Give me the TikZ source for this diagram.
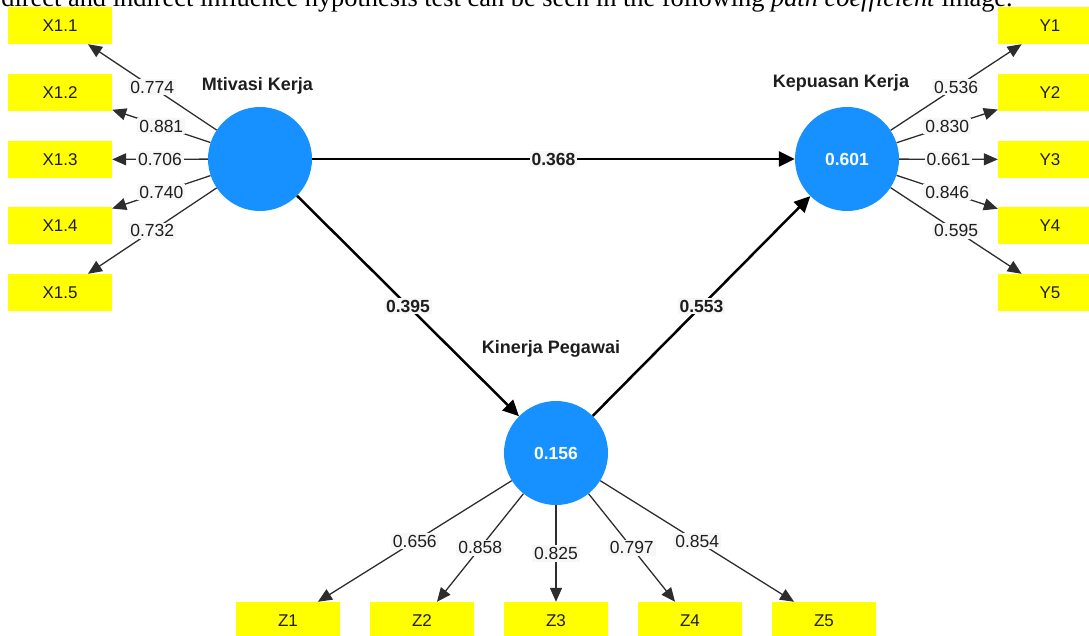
\documentclass[tikz,border=0pt]{standalone}
\usepackage{fontspec}
\setmainfont{Liberation Serif}
\newfontfamily\arialf{Liberation Sans}
\usetikzlibrary{arrows.meta}
\definecolor{nodeblue}{RGB}{22,145,255}
\definecolor{boxyellow}{RGB}{255,255,0}
\definecolor{lblbg}{RGB}{247,247,247}
\definecolor{txt}{RGB}{30,30,30}
\definecolor{lnk}{RGB}{45,45,45}
\begin{document}
\begin{tikzpicture}[x=1pt,y=-1pt,
 ind/.style={fill=boxyellow, minimum width=104pt, minimum height=37pt, inner sep=0pt, font=\arialf\fontsize{17}{19}\selectfont, text=txt},
 lat/.style={circle, fill=nodeblue, minimum size=104pt, inner sep=0pt, font=\arialf\bfseries\fontsize{17.5}{19}\selectfont, text=white},
 latname/.style={anchor=base, inner sep=0pt, font=\arialf\bfseries\fontsize{18}{20}\selectfont, text=txt},
 loadarr/.style={draw=lnk, line width=1.3pt, -{Triangle[length=14pt,width=12pt]}},
 strarr/.style={draw=black, line width=2.5pt, -{Triangle[length=16pt,width=15pt]}},
 lbl/.style={fill=lblbg, inner sep=2pt, font=\arialf\fontsize{17.5}{19}\selectfont, text=txt},
 plbl/.style={fill=lblbg, inner sep=2pt, font=\arialf\bfseries\fontsize{17.5}{19}\selectfont, text=txt}]
\useasboundingbox (0,0) rectangle (1089,636);
\clip (0,0) rectangle (1089,636);

% cut-off caption line at the top
\node[anchor=base east, inner sep=0pt, font=\fontsize{26.4}{28}\selectfont] (cap) at (1013,7)
  {direct and indirect influence hypothesis test can be seen in the following \textit{path coefficient} image.};

% latent variables
\node[lat] (mk) at (260,159) {};
\node[lat] (kk) at (847,159) {0.601};
\node[lat] (kp) at (556,453) {0.156};
\node[latname] (mkn) at (257.5,91) {Mtivasi Kerja};
\node[latname] (kkn) at (841,88) {Kepuasan Kerja};
\node[latname] (kpn) at (551,353) {Kinerja Pegawai};

% indicators
\node[ind] (x1) at (60,25.5) {X1.1};
\node[ind] (x2) at (60,92.5) {X1.2};
\node[ind] (x3) at (60,159.5) {X1.3};
\node[ind] (x4) at (60,226) {X1.4};
\node[ind] (x5) at (60,292.5) {X1.5};
\node[ind] (y1) at (1050,25.5) {Y1};
\node[ind] (y2) at (1050,92.5) {Y2};
\node[ind] (y3) at (1050,159.5) {Y3};
\node[ind] (y4) at (1050,226) {Y4};
\node[ind] (y5) at (1050,292.5) {Y5};
\node[ind] (z1) at (288,620.5) {Z1};
\node[ind] (z2) at (422,620.5) {Z2};
\node[ind] (z3) at (556,620.5) {Z3};
\node[ind] (z4) at (690,620.5) {Z4};
\node[ind] (z5) at (824,620.5) {Z5};

% loadings
\draw[loadarr] (mk) -- node[lbl]{0.774} (x1);
\draw[loadarr] (mk) -- node[lbl]{0.881} (x2);
\draw[loadarr] (mk) -- node[lbl]{0.706} (x3);
\draw[loadarr] (mk) -- node[lbl]{0.740} (x4);
\draw[loadarr] (mk) -- node[lbl]{0.732} (x5);
\draw[loadarr] (kk) -- node[lbl]{0.536} (y1);
\draw[loadarr] (kk) -- node[lbl]{0.830} (y2);
\draw[loadarr] (kk) -- node[lbl]{0.661} (y3);
\draw[loadarr] (kk) -- node[lbl]{0.846} (y4);
\draw[loadarr] (kk) -- node[lbl]{0.595} (y5);
\draw[loadarr] (kp) -- node[lbl]{0.656} (z1);
\draw[loadarr] (kp) -- node[lbl]{0.858} (z2);
\draw[loadarr] (kp) -- node[lbl]{0.825} (z3);
\draw[loadarr] (kp) -- node[lbl]{0.797} (z4);
\draw[loadarr] (kp) -- node[lbl]{0.854} (z5);

% structural paths
\draw[strarr] (mk) -- node[plbl]{0.368} (kk);
\draw[strarr] (mk) -- node[plbl]{0.395} (kp);
\draw[strarr] (kp) -- node[plbl]{0.553} (kk);
\end{tikzpicture}
\end{document}
